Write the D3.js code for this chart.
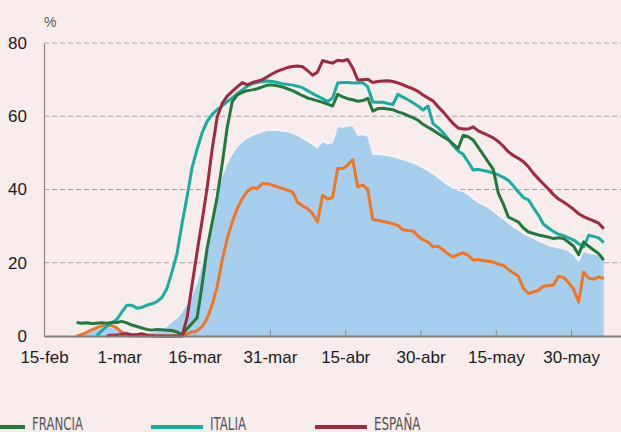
<!DOCTYPE html>
<html>
<head>
<meta charset="utf-8">
<script src="https://cdn.jsdelivr.net/npm/d3@7"></script>
<style>
  body { margin: 0; background: #f8eced; }
  svg { display: block; font-family: "Liberation Sans", Arial, sans-serif; }
</style>
</head>
<body>
<div id="chart"></div>
<script>
// Day index 0 = 15-feb; one value per day up to 5-jun
var francia = [null, null, null, null, null, null,
  3.7, 3.5, 3.6, 3.4, 3.5, 3.6, 3.5, 3.7, 3.7, 4.0,
  3.6, 3.0, 2.6, 2.2, 1.8, 1.6, 1.8, 1.7, 1.6, 1.5,
  1.1, 0.3, 2.0, 3.5, 5.0, 14, 24, 31, 38, 47,
  57, 64, 65.8, 66.5, 67, 67.2, 67.5, 68, 68.5, 68.5,
  68.3, 68, 67.5, 67, 66.3, 65.6, 65, 64.6, 64.2, 63.8,
  63.3, 62.8, 66, 65.3, 64.8, 64.5, 64.1, 64.3, 64.9, 61.4,
  62.1, 62.2, 62, 61.8, 61.2, 60.8, 60.2, 59.6, 58.9, 57.8,
  57, 56.2, 55.3, 54.4, 53.6, 52.4, 51.2, 54.8, 54.4, 53.5,
  51.5, 49.5, 47.5, 45.5, 39, 36, 32.5, 31.8, 31.1, 29.5,
  28.4, 28, 27.6, 27.3, 27, 26.6, 26.8, 26.6, 25.6, 24.5,
  22.2, 25.7, 24.5, 23.5, 22.5, 20.7];

var italia = [null, null, null, null, null, null, null, null, null, null,
  0.2, 1.4, 2.6, 3.6, 4.5, 6.5,
  8.4, 8.4, 7.6, 7.8, 8.4, 8.8, 9.4, 10.5, 13, 17.5,
  22.5, 30.7, 38, 46, 51, 55.5, 58.6, 60.5, 61.8, 62.8,
  64, 65, 66.2, 67.2, 68.2, 68.9, 69.2, 69.5, 69.6, 69.5,
  69.2, 68.9, 68.7, 68.5, 68.2, 67.8, 67, 66.2, 65.5, 64.8,
  64, 65, 69.1, 69.2, 69.2, 69.1, 69.1, 69.2, 68, 63.9,
  63.8, 63.8, 63.5, 63.2, 66, 65.2, 64.5, 63.7, 62.8, 61.7,
  62.8, 58, 56.9, 55.5, 53.8, 52, 50.5, 49.6, 47.5, 45.3,
  45.5, 45.2, 44.9, 44.5, 44, 43.3, 42.5, 41, 39.3, 37.8,
  37.2, 35, 33, 30.5, 29.5, 28.5, 27.8, 27.4, 26.8, 26.2,
  25.2, 24.3, 27.5, 27.2, 26.8, 25.5];

var espana = [null, null, null, null, null, null, null, null, null, null, null, null,
  0, 0.2, 0.3, 0.5,
  0.6, 0.3, 0.4, 0.6, 0.2, 0.1, 0, 0, 0, 0,
  0, 0, 5, 14, 23, 31.5, 40.5, 51, 59.8, 63.5,
  65.5, 66.8, 68, 69.2, 68.6, 69.2, 69.6, 70, 70.8, 71.6,
  72.3, 72.8, 73.3, 73.6, 73.7, 73.5, 72.5, 71.2, 72.1, 75.2,
  74.8, 74.5, 75.3, 75.1, 75.5, 73.2, 69.9, 70, 70.1, 69.2,
  69.5, 69.6, 69.7, 69.5, 69.1, 68.6, 68, 67.5, 66.8, 65.8,
  65, 64.2, 62.6, 61.2, 59.6, 58, 56.8, 56.5, 56.5, 57.1,
  56, 55.4, 54.8, 54.1, 53.1, 51.8, 50.3, 49.3, 48.5, 47.6,
  46.2, 44.4, 42.9, 41.5, 40.1, 38.6, 37.4, 36.6, 35.6, 34.6,
  33.4, 32.6, 32, 31.4, 30.8, 29.3];

var naranja = [null, null, null, null, null, null,
  0, 0.4, 1, 1.7, 2.3, 2.7, 2.9, 2.8, 2.2, 1.0,
  0.2, 0, 0, 0, 0, 0, 0, 0, 0, 0,
  0, 0, 0.6, 1.1, 1.4, 2.6, 4.8, 8.5, 13.5, 20.7,
  26.6, 31.1, 34.8, 37.5, 39.5, 40.5, 40.3, 41.6, 41.6, 41.2,
  40.7, 40.3, 39.8, 39.4, 36.5, 35.5, 34.8, 33.4, 31.1, 38.4,
  37.4, 37.8, 45.7, 45.7, 46.6, 48.2, 40.7, 41.2, 40, 31.8,
  31.6, 31.3, 31, 30.6, 30.2, 29, 28.8, 28.7, 27.3, 26.3,
  25.6, 24.4, 24.5, 23.5, 22.4, 21.6, 22.2, 22.7, 22, 20.7,
  20.9, 20.6, 20.4, 20.2, 19.6, 19.3, 18.2, 17.2, 16.3, 13,
  11.6, 12, 12.5, 13.6, 13.8, 13.9, 16.3, 16, 14.6, 12.8,
  9.2, 17.5, 15.8, 15.5, 16.1, 15.7];

var areaAzul = [null, null, null, null, null, null,
  0, 0.5, 1, 1.5, 2, 2.2, 2.3, 2.2, 2, 1.6,
  1.2, 0.9, 0.8, 0.8, 0.8, 0.9, 1.1, 1.5, 2.5, 3.8,
  4.8, 6.5, 8.6, 11, 14.5, 19.5, 26, 32.5, 39, 43.5,
  47, 49.5, 51.6, 53, 53.9, 54.6, 55.1, 55.6, 56, 56,
  56, 55.8, 55.6, 55.2, 54.6, 53.8, 53.1, 52.1, 51.2, 53,
  52.3, 52.6, 57.1, 56.8, 57.2, 57.3, 54.6, 54.8, 54.4, 49.4,
  49.4, 49.3, 49.1, 48.8, 48.4, 48, 47.6, 47.1, 46.5, 45.7,
  45, 44.1, 43.1, 42, 41, 40.2, 39.6, 39.3, 38.4, 37.3,
  36.3, 35.6, 34.9, 33.9, 32.7, 31.8, 30.6, 29.6, 28.8, 27.8,
  27.1, 26.5, 25.8, 25.2, 24.6, 24.2, 23.9, 23.6, 23.1, 22,
  20.2, 23, 22.5, 22.2, 22, 21.6];

var yTicks = [0, 20, 40, 60, 80];
var xTickDays = [0, 15, 30, 45, 60, 75, 90, 105];
var xTickLabels = ["15-feb", "1-mar", "16-mar", "31-mar", "15-abr", "30-abr", "15-may", "30-may"];
var legendNames = ["FRANCIA", "ITALIA", "ESPAÑA"];

// Dimensions
var svgWidth = 621;
var svgHeight = 432;

var svg = d3.select("#chart")
  .append("svg")
  .attr("width", svgWidth)
  .attr("height", svgHeight);

svg.append("rect")
  .attr("width", svgWidth)
  .attr("height", svgHeight)
  .attr("fill", "#f8eced");

var xScale = d3.scaleLinear().domain([0, 115]).range([44, 621.3]);
var yScale = d3.scaleLinear().domain([0, 80]).range([336, 43]);

// Gridlines
svg.append("g")
  .selectAll("line")
  .data(yTicks.filter(d => d > 0))
  .enter()
  .append("line")
  .attr("x1", xScale(0))
  .attr("x2", svgWidth)
  .attr("y1", d => yScale(d))
  .attr("y2", d => yScale(d))
  .attr("stroke", "#a9a5a6")
  .attr("stroke-width", 1)
  .attr("stroke-dasharray", "5,3");

// Blue area
var area = d3.area()
  .defined(d => d !== null)
  .x((d, i) => xScale(i + 0.5))
  .y0(yScale(0))
  .y1(d => yScale(d));

svg.append("path")
  .datum(areaAzul)
  .attr("d", area)
  .attr("fill", "#a6cfee");

var line = d3.line()
  .defined(d => d !== null)
  .x((d, i) => xScale(i + 0.5))
  .y(d => yScale(d));

// faint light edge on top of the area
svg.append("path")
  .datum(areaAzul)
  .attr("d", line)
  .attr("transform", "translate(0,-1.2)")
  .attr("fill", "none")
  .attr("stroke", "#ffffff")
  .attr("stroke-opacity", 0.35)
  .attr("stroke-width", 2);

var series = [
  {values: naranja, color: "#f47420"},
  {values: italia, color: "#19aca3"},
  {values: francia, color: "#217a3b"},
  {values: espana, color: "#a0283f"}
];

svg.append("g")
  .selectAll("path")
  .data(series)
  .enter()
  .append("path")
  .attr("d", d => line(d.values))
  .attr("fill", "none")
  .attr("stroke", d => d.color)
  .attr("stroke-width", 3)
  .attr("stroke-linejoin", "round");

// Axes
var leftAxis = d3.axisLeft(yScale)
  .tickValues(yTicks)
  .tickSize(0)
  .tickPadding(17);

var yAxis = svg.append("g")
  .attr("transform", `translate(${xScale(0)},0)`)
  .call(leftAxis);
yAxis.select(".domain").attr("stroke", "#8c8a8b").attr("stroke-width", 1.2);
yAxis.selectAll("text").attr("font-size", 17).attr("fill", "#1b1b1b")
  .attr("font-family", "'Liberation Sans', Arial, sans-serif");

var bottomAxis = d3.axisBottom(xScale)
  .tickValues(xTickDays)
  .tickFormat((d, i) => xTickLabels[i])
  .tickSizeInner(-6)
  .tickSizeOuter(0)
  .tickPadding(15);

var xAxis = svg.append("g")
  .attr("transform", `translate(0,${yScale(0)})`)
  .call(bottomAxis);
xAxis.select(".domain").attr("stroke", "#807e80").attr("stroke-width", 2.2);
xAxis.selectAll(".tick line").attr("stroke", "#8c8a8b").attr("stroke-width", 1);
xAxis.selectAll("text").attr("font-size", 17).attr("fill", "#1b1b1b")
  .attr("font-family", "'Liberation Sans', Arial, sans-serif");

// Unit label
svg.append("text")
  .attr("x", 44)
  .attr("y", 27)
  .attr("font-size", 14)
  .attr("fill", "#5a5a5a")
  .text("%");

// Legend (partly cut by the bottom edge, as in the original)
var legendX = [-27, 151, 315];
var legendWidths = [51, 36, 46.5];
var legendItems = [
  {name: legendNames[0], color: "#217a3b"},
  {name: legendNames[1], color: "#19aca3"},
  {name: legendNames[2], color: "#a0283f"}
];
var lg = svg.append("g");
legendItems.forEach(function(item, i) {
  lg.append("line")
    .attr("x1", legendX[i])
    .attr("x2", legendX[i] + 52)
    .attr("y1", 427)
    .attr("y2", 427)
    .attr("stroke", item.color)
    .attr("stroke-width", 4);
  lg.append("text")
    .attr("x", legendX[i] + 59)
    .attr("y", 430)
    .attr("font-size", 17)
    .attr("font-family", "'Liberation Sans Narrow', 'DejaVu Sans Condensed', sans-serif")
    .attr("fill", "#555355")
    .attr("textLength", legendWidths[i])
    .attr("lengthAdjust", "spacingAndGlyphs")
    .text(item.name);
});
</script>
</body>
</html>
